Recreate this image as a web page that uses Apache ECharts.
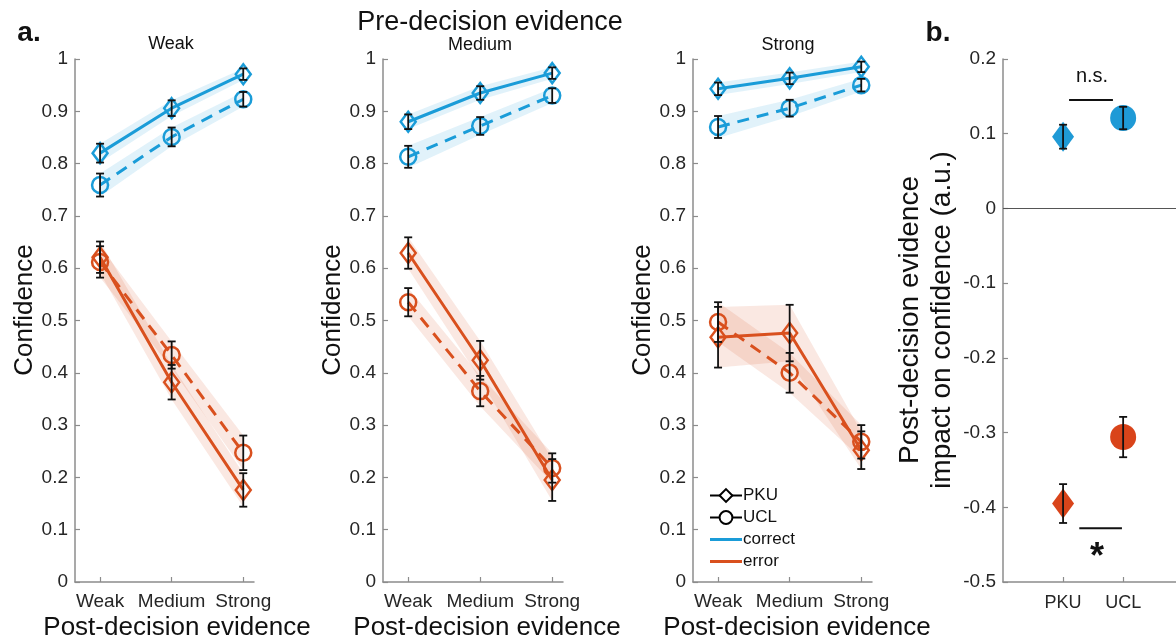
<!DOCTYPE html>
<html>
<head>
<meta charset="utf-8">
<script src="https://cdn.jsdelivr.net/npm/echarts@6/dist/echarts.min.js"></script>
<style>
  html, body { margin: 0; padding: 0; background: #fff; }
  #chart { width: 1176px; height: 642px; }
</style>
</head>
<body>
<div id="chart"></div>
<script>
// categories
const postCats = ['Weak', 'Medium', 'Strong'];
const preCats = ['Weak', 'Medium', 'Strong'];
const siteCats = ['PKU', 'UCL'];

// panel a: one row per pre-decision level, values at Weak / Medium / Strong post-decision evidence
const correctPKU = [[0.820, 0.906, 0.971], [0.880, 0.935, 0.973], [0.943, 0.963, 0.985]];
const correctPKUErr = [[0.018, 0.015, 0.011], [0.014, 0.013, 0.011], [0.012, 0.011, 0.010]];
const correctUCL = [[0.759, 0.851, 0.923], [0.813, 0.872, 0.930], [0.870, 0.906, 0.950]];
const correctUCLErr = [[0.022, 0.018, 0.014], [0.021, 0.017, 0.014], [0.021, 0.016, 0.012]];
const errorPKU = [[0.621, 0.382, 0.176], [0.629, 0.424, 0.195], [0.468, 0.476, 0.252]];
const errorPKUErr = [[0.030, 0.033, 0.032], [0.030, 0.037, 0.040], [0.058, 0.054, 0.036]];
const errorUCL = [[0.612, 0.434, 0.247], [0.535, 0.365, 0.218], [0.497, 0.400, 0.268]];
const errorUCLErr = [[0.030, 0.026, 0.033], [0.027, 0.029, 0.028], [0.038, 0.038, 0.032]];

// panel b: post-decision evidence impact (correct, error)
const impactPKU = [0.096, -0.395];
const impactPKUErr = [0.016, 0.026];
const impactUCL = [0.121, -0.306];
const impactUCLErr = [0.015, 0.027];

const blue = '#1a9cd8';
const red = '#d9501e';
const font = '"Liberation Sans", Arial, sans-serif';
const axisGray = '#8c8c8c';
const textCol = '#262626';

const myChart = echarts.init(document.getElementById('chart'));

const pts = (vals) => vals.map((v, i) => [i, v]);
const bars = (vals, errs) => vals.map((v, i) => [i, v - errs[i], v + errs[i]]);

// vertical error bar with caps
const errRender = (params, api) => {
  const x = api.value(0);
  const lo = api.coord([x, api.value(1)]);
  const hi = api.coord([x, api.value(2)]);
  const cw = 4;
  const st = { stroke: '#111', lineWidth: 1.8 };
  return {
    type: 'group',
    children: [
      { type: 'line', shape: { x1: lo[0], y1: lo[1], x2: hi[0], y2: hi[1] }, style: st },
      { type: 'line', shape: { x1: lo[0] - cw, y1: lo[1], x2: lo[0] + cw, y2: lo[1] }, style: st },
      { type: 'line', shape: { x1: hi[0] - cw, y1: hi[1], x2: hi[0] + cw, y2: hi[1] }, style: st }
    ]
  };
};

// shaded band drawn once from all points of the series
const bandRender = (fill) => (params, api) => {
  if (params.dataIndexInside !== 0) return null;
  const n = params.dataInsideLength;
  const top = [], bot = [];
  for (let i = 0; i < n; i++) {
    const x = api.value(0, i);
    top.push(api.coord([x, api.value(2, i)]));
    bot.unshift(api.coord([x, api.value(1, i)]));
  }
  return { type: 'polygon', shape: { points: top.concat(bot) }, style: { fill: fill } };
};

const grids = [
  { left: 75, width: 179, top: 59, bottom: 60 },
  { left: 383, width: 180, top: 59, bottom: 60 },
  { left: 693, width: 179, top: 59, bottom: 60 },
  { left: 1003, right: 0, top: 59, bottom: 60 }
];

const xAxes = [];
const yAxes = [];
const series = [];

for (let p = 0; p < 3; p++) {
  xAxes.push({
    type: 'value', gridIndex: p, min: -0.35, max: 2.15,
    axisLine: { onZero: false, lineStyle: { color: axisGray, width: 1.5 } },
    axisTick: { inside: true, length: 5, customValues: [0, 1, 2], lineStyle: { color: axisGray, width: 1.2 } },
    axisLabel: { customValues: [0, 1, 2], formatter: (v) => postCats[Math.round(v)], color: textCol, fontSize: 19, fontFamily: font, margin: 10 },
    splitLine: { show: false }
  });
  yAxes.push({
    type: 'value', gridIndex: p, min: 0, max: 1, interval: 0.1,
    axisLine: { show: true, onZero: false, lineStyle: { color: axisGray, width: 1.5 } },
    axisTick: { show: true, inside: true, length: 5, lineStyle: { color: axisGray, width: 1.2 } },
    axisLabel: { formatter: (v) => String(Math.round(v * 10) / 10), color: textCol, fontSize: 19, fontFamily: font, margin: 7 },
    splitLine: { show: false }
  });

  const lines = [
    { vals: correctPKU[p], errs: correctPKUErr[p], color: blue, band: 'rgba(26,156,216,0.13)', sym: 'diamond', dash: 'solid' },
    { vals: correctUCL[p], errs: correctUCLErr[p], color: blue, band: 'rgba(26,156,216,0.13)', sym: 'circle', dash: [12, 8] },
    { vals: errorPKU[p], errs: errorPKUErr[p], color: red, band: 'rgba(217,80,30,0.13)', sym: 'diamond', dash: 'solid' },
    { vals: errorUCL[p], errs: errorUCLErr[p], color: red, band: 'rgba(217,80,30,0.13)', sym: 'circle', dash: [12, 8] }
  ];
  lines.forEach((l) => {
    series.push({
      type: 'custom', xAxisIndex: p, yAxisIndex: p, z: 1, silent: true,
      renderItem: bandRender(l.band), data: bars(l.vals, l.errs)
    });
  });
  lines.forEach((l) => {
    series.push({
      type: 'line', xAxisIndex: p, yAxisIndex: p, z: 2, silent: true,
      data: pts(l.vals),
      symbol: l.sym, symbolSize: l.sym === 'diamond' ? [15, 20] : 16,
      showAllSymbol: true,
      lineStyle: { color: l.color, width: 3, type: l.dash },
      itemStyle: { color: 'rgba(255,255,255,0)', borderColor: l.color, borderWidth: 2.5 }
    });
  });
  series.push({
    type: 'custom', xAxisIndex: p, yAxisIndex: p, z: 3, silent: true,
    renderItem: errRender,
    data: lines.flatMap((l) => bars(l.vals, l.errs))
  });
}

// legend-only series in the third panel
series.push(
  { name: 'PKU', type: 'line', xAxisIndex: 2, yAxisIndex: 2, data: [], symbol: 'diamond', symbolSize: [15, 20],
    lineStyle: { color: '#000', width: 2 }, itemStyle: { color: '#fff', borderColor: '#000', borderWidth: 2.5 } },
  { name: 'UCL', type: 'line', xAxisIndex: 2, yAxisIndex: 2, data: [], symbol: 'circle', symbolSize: 16,
    lineStyle: { color: '#000', width: 2 }, itemStyle: { color: '#fff', borderColor: '#000', borderWidth: 2.5 } },
  { name: 'correct', type: 'line', xAxisIndex: 2, yAxisIndex: 2, data: [], symbol: 'none',
    lineStyle: { color: blue, width: 3 }, itemStyle: { color: blue } },
  { name: 'error', type: 'line', xAxisIndex: 2, yAxisIndex: 2, data: [], symbol: 'none',
    lineStyle: { color: red, width: 3 }, itemStyle: { color: red } }
);

// panel b
xAxes.push({
  type: 'value', gridIndex: 3, min: 0, max: 2.88,
  axisLine: { onZero: false, lineStyle: { color: axisGray, width: 1.5 } },
  axisTick: { inside: true, length: 5, customValues: [1, 2], lineStyle: { color: axisGray, width: 1.2 } },
  axisLabel: { customValues: [1, 2], formatter: (v) => siteCats[Math.round(v) - 1], color: textCol, fontSize: 18, fontFamily: font, margin: 12 },
  splitLine: { show: false }
});
yAxes.push({
  type: 'value', gridIndex: 3, min: -0.5, max: 0.2, interval: 0.1,
  axisLine: { show: true, onZero: false, lineStyle: { color: axisGray, width: 1.5 } },
  axisTick: { show: true, inside: true, length: 5, lineStyle: { color: axisGray, width: 1.2 } },
  axisLabel: { formatter: (v) => String(Math.round(v * 10) / 10), color: textCol, fontSize: 19, fontFamily: font, margin: 7 },
  splitLine: { show: false }
});

const impactColors = ['#1f9ad6', '#d9441a'];
series.push(
  {
    type: 'scatter', xAxisIndex: 3, yAxisIndex: 3, z: 2, silent: true,
    symbol: 'diamond', symbolSize: [22, 30],
    data: impactPKU.map((v, i) => ({ value: [1, v], itemStyle: { color: impactColors[i], opacity: 1 } })),
    markLine: {
      silent: true, symbol: 'none', label: { show: false },
      lineStyle: { color: '#555', width: 1.2, type: 'solid' },
      data: [{ yAxis: 0 }]
    }
  },
  {
    type: 'scatter', xAxisIndex: 3, yAxisIndex: 3, z: 2, silent: true,
    symbol: 'circle', symbolSize: 26,
    data: impactUCL.map((v, i) => ({ value: [2, v], itemStyle: { color: impactColors[i], opacity: 1 } }))
  },
  {
    type: 'custom', xAxisIndex: 3, yAxisIndex: 3, z: 3, silent: true,
    renderItem: errRender,
    data: impactPKU.map((v, i) => [1, v - impactPKUErr[i], v + impactPKUErr[i]])
      .concat(impactUCL.map((v, i) => [2, v - impactUCLErr[i], v + impactUCLErr[i]]))
  },
  // significance bars
  {
    type: 'line', xAxisIndex: 3, yAxisIndex: 3, symbol: 'none', silent: true,
    lineStyle: { color: '#111', width: 2 }, data: [[1.1, 0.145], [1.83, 0.145]]
  },
  {
    type: 'line', xAxisIndex: 3, yAxisIndex: 3, symbol: 'none', silent: true,
    lineStyle: { color: '#111', width: 2 }, data: [[1.27, -0.428], [1.98, -0.428]]
  }
);

const txt = (x, y, text, size, extra) => ({
  type: 'text', x: x, y: y, rotation: (extra && extra.rot) || 0,
  style: {
    text: text, fontSize: size, fontFamily: font, fill: (extra && extra.fill) || '#111',
    fontWeight: (extra && extra.bold) ? 'bold' : 'normal',
    textAlign: 'center', textVerticalAlign: 'middle'
  }
});
const rot = Math.PI / 2;
const lineIcon = 'path://M0,0 L32,0 L32,3 L0,3 Z';

const option = {
  animation: false,
  backgroundColor: '#fff',
  grid: grids,
  xAxis: xAxes,
  yAxis: yAxes,
  legend: {
    data: [
      { name: 'PKU' },
      { name: 'UCL' },
      { name: 'correct', icon: lineIcon },
      { name: 'error', icon: lineIcon }
    ],
    orient: 'vertical', left: 704, top: 482,
    itemWidth: 32, itemHeight: 16, itemGap: 5,
    selectedMode: false,
    textStyle: { fontSize: 17, fontFamily: font, color: '#111', padding: [0, 0, 0, -4] }
  },
  series: series,
  graphic: [
    txt(29, 33, 'a.', 28, { bold: true }),
    txt(938, 33, 'b.', 28, { bold: true }),
    txt(490, 23, 'Pre-decision evidence', 27),
    txt(171, 44, preCats[0], 18),
    txt(480, 45, preCats[1], 18),
    txt(788, 45, preCats[2], 18),
    txt(25, 310, 'Confidence', 26, { rot: rot }),
    txt(333, 310, 'Confidence', 26, { rot: rot }),
    txt(643, 310, 'Confidence', 26, { rot: rot }),
    txt(177, 628, 'Post-decision evidence', 26),
    txt(487, 628, 'Post-decision evidence', 26),
    txt(797, 628, 'Post-decision evidence', 26),
    txt(910, 320, 'Post-decision evidence', 28, { rot: rot }),
    txt(942, 320, 'impact on confidence (a.u.)', 28, { rot: rot }),
    txt(1092, 76, 'n.s.', 20),
    txt(1097, 558, '*', 36, { bold: true })
  ]
};

myChart.setOption(option);
window.addEventListener('resize', () => myChart.resize());
</script>
</body>
</html>
